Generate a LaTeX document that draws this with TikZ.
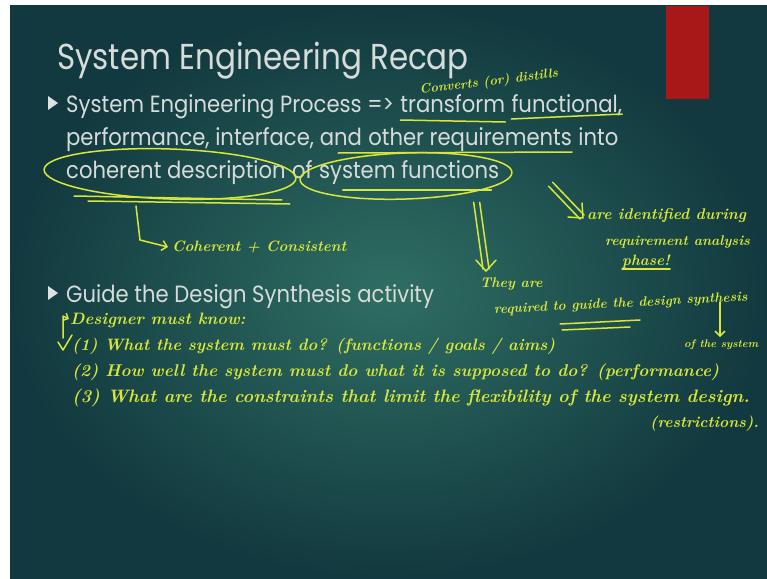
\documentclass[tikz,border=0pt]{standalone}
\usepackage{fontspec}
\newfontfamily\slidefont[FakeStretch=0.9]{Poppins}
\newfontfamily\titlefont[FakeStretch=0.86]{Poppins}
\usetikzlibrary{arrows.meta, positioning, calc, shapes.geometric, fit}
\definecolor{bgin}{HTML}{2F6E63}
\definecolor{bgout}{HTML}{12393F}
\definecolor{slidegrey}{HTML}{D6DCDA}
\definecolor{chalk}{HTML}{D8E83A}
\definecolor{tabred}{HTML}{A91818}

\begin{document}
\begin{tikzpicture}[
      x=1pt, y=-1pt,
      slide/.style={text=slidegrey, font=\slidefont\fontsize{23.5}{27}\selectfont, anchor=base west, inner sep=0pt},
      hand/.style={text=chalk, font=\bfseries\itshape\fontsize{#1}{#1}\selectfont, anchor=base west, inner sep=0pt},
      hand/.default=18,
      ink/.style={draw=chalk, line width=1.5pt, line cap=round, line join=round},
      loop/.style={ink, ellipse, inner sep=0pt},
      bullet/.style={fill=slidegrey!80, draw=none}
    ]
    \useasboundingbox (0,0) rectangle (767,578);
    % Slide background
    \fill[white] (0,0) rectangle (767,578);
    \shade[inner color=bgin, outer color=bgout] (10,6) rectangle (767,578);
    \fill[tabred] (666,6) rectangle (709,99);

    % Slide text
    \node[slide, font=\titlefont\fontsize{36}{40}\selectfont] (title) at (57,70) {System Engineering Recap};
    \fill[bullet] (48,96) -- (58,103) -- (48,110) -- cycle;
    \node[slide] (p1) at (66,112) {System Engineering Process =>};
    \node[slide] (tf) at ($(p1.base east)+(6,0)$) {transform};
    \node[slide] (fn) at ($(tf.base east)+(6,0)$) {functional,};
    \node[slide] (p2) at (66,145) {performance, interface, and};
    \node[slide] (oreq) at ($(p2.base east)+(6,0)$) {other requirements};
    \node[slide] (into) at ($(oreq.base east)+(6,0)$) {into};
    \node[slide] (cd) at (66,178) {coherent description};
    \node[slide] (of) at ($(cd.base east)+(6,0)$) {of};
    \node[slide] (sf) at ($(of.base east)+(6,0)$) {system functions};
    \fill[bullet] (48,286) -- (58,293) -- (48,300) -- cycle;
    \node[slide] (g1) at (66,302) {Guide the Design Synthesis activity};

    % Handwritten notes
    \node[hand=13, rotate=7] (conv) at (420,94) {Converts (or) distills};
    \draw[ink] ([yshift=-8pt]tf.base west) -- ([yshift=-10pt]tf.base east);
    \draw[ink] ([yshift=-7pt]fn.base west) -- ([yshift=-2pt]fn.base east);
    \draw[ink] ([xshift=-30pt, yshift=-8pt]oreq.base west) -- ([yshift=-7pt]oreq.base east);
    \node[loop, minimum width=252pt, minimum height=50pt, rotate=-2] (ecd) at (170,174) {};
    \node[loop, minimum width=212pt, minimum height=46pt, rotate=2] (esf) at (406,176) {};
    \draw[ink] ([xshift=8pt, yshift=-18pt]cd.base west) -- ([xshift=-4pt, yshift=-22pt]cd.base east);
    \draw[ink] ([xshift=22pt, yshift=-23pt]cd.base west) -- ([xshift=4pt, yshift=-26pt]cd.base east);
    \draw[ink] ([xshift=24pt, yshift=-12pt]sf.base west) -- ([xshift=-8pt, yshift=-12pt]sf.base east);

    \node[hand=15] (coh) at (172,251) {Coherent + Consistent};
    \coordinate (hk) at (136,206);
    \draw[ink, -{Straight Barb[length=5pt]}] (hk) -- (140,240) -- ([xshift=-4pt, yshift=4pt]coh.base west);

    \node[hand=15.5] (ident1) at (587,219) {are identified during};
    \node[hand=14] (ident2) at (605,245) {requirement analysis};
    \node[hand=15] (ident3) at (622,265) {phase!};
    \draw[ink] ([yshift=-4pt]ident3.base west) -- ([yshift=-4pt]ident3.base east);

    \node[hand=14] (they) at (480,287) {They are};
    \node[hand=13.5, rotate=3] (req) at (494,314) {required to guide the design synthesis};
    \draw[ink] (560,324) -- (640,320);
    \draw[ink] (562,330) -- (630,327);
    \node[hand=11] (ofsys) at (684,347) {of the system};

    \coordinate (a1s) at ($(esf.east)+(-36,30)$);
    \coordinate (a1e) at ($(they.north west)+(6,-8)$);
    \draw[ink] ([xshift=-3pt]a1s) -- ([xshift=-3pt]a1e);
    \draw[ink] ([xshift=3pt]a1s) -- ([xshift=3pt]a1e);
    \draw[ink] ([xshift=-10pt, yshift=9pt]a1e) -- ([yshift=-2pt]a1e) -- ([xshift=10pt, yshift=9pt]a1e);

    \coordinate (a2s) at ($(esf.east)+(38,12)$);
    \coordinate (a2e) at ($(ident1.base west)+(-5,-2)$);
    \draw[ink] ([xshift=-2pt, yshift=-2pt]a2s) -- ([xshift=-2pt, yshift=-2pt]a2e);
    \draw[ink] ([xshift=2pt, yshift=2pt]a2s) -- ([xshift=2pt, yshift=2pt]a2e);
    \draw[ink] ([xshift=-14pt]a2e) -- ([xshift=1pt, yshift=-1pt]a2e) -- ([yshift=14pt]a2e);

    \coordinate (a3s) at (720,302);
    \draw[ink, -{Straight Barb[length=5pt]}] (a3s) -- ([xshift=36pt, yshift=2pt]ofsys.north west);

    \node[hand=16.5] (des) at (70,324) {Designer must know:};
    \draw[ink, -{Straight Barb[length=4pt]}] (63,338) -- (63,316) -- ([xshift=-1pt, yshift=5pt]des.base west);
    \draw[ink] (58,342) -- (63,350) -- (72,335);
    \node[hand=16.5] (q1) at (72,350) {(1) What the system must do? (functions / goals / aims)};
    \node[hand=17] (q2) at (72,376) {(2) How well the system must do what it is supposed to do? (performance)};
    \node[hand] (q3) at (72,402) {(3) What are the constraints that limit the flexibility of the system design.};
    \node[hand=15.5] (restr) at (650,427) {(restrictions).};
  \end{tikzpicture}
\end{document}
